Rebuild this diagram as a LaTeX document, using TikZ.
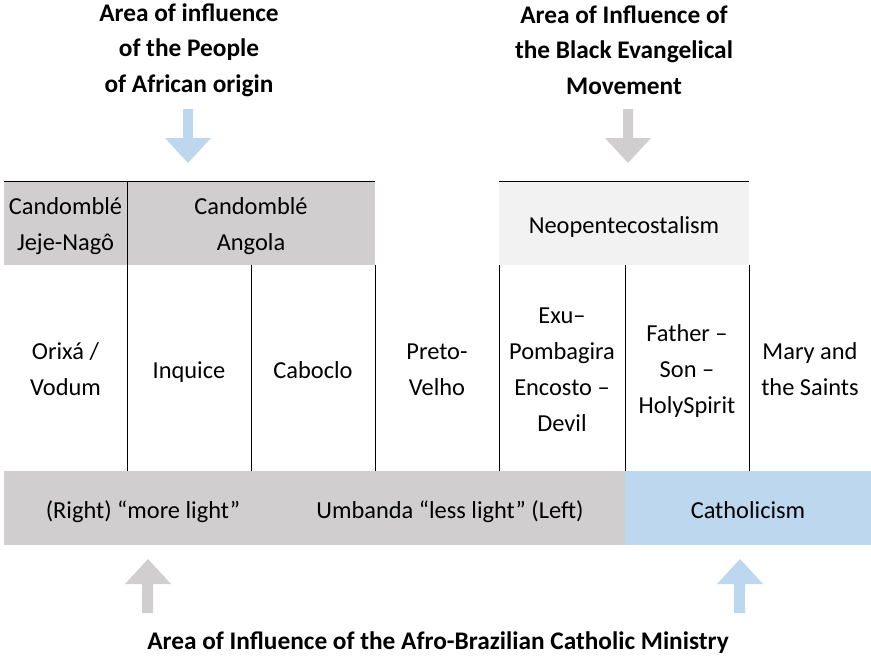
\documentclass[tikz,border=0pt]{standalone}
\usepackage{fontspec}
\setmainfont{Carlito}
\definecolor{bargray}{HTML}{D0CECE}
\definecolor{barblue}{HTML}{BDD7EE}
\definecolor{boxlight}{HTML}{F2F2F2}
\tikzset{
	txt/.style={align=center,font=\fontsize{18.3}{27}\selectfont,inner sep=0pt},
	oneline/.style={txt,text height=14.6pt,text depth=0pt},
	head/.style={align=center,font=\fontsize{19}{26.6}\selectfont\bfseries,inner sep=0pt},
	sep/.style={line width=0.7pt,black}
}
\begin{document}
\begin{tikzpicture}[x=0.75pt,y=-0.75pt]
		\useasboundingbox (0,0) rectangle (871,661);

		% boxes on top and bar below
		\fill[bargray] (4,181) rectangle (375,265);
		\fill[boxlight] (499,181) rectangle (749,265);
		\fill[bargray] (4,471) rectangle (625,545);
		\fill[barblue] (625,471) rectangle (871,545);
		\draw[sep] (4,181) -- (375,181);
		\draw[sep] (499,181) -- (749,181);

		\draw[sep] (127,181) -- (127,471);
		\draw[sep] (251,265) -- (251,471);
		\draw[sep] (375,265) -- (375,471);
		\draw[sep] (499,265) -- (499,471);
		\draw[sep] (625,265) -- (625,471);
		\draw[sep] (749,265) -- (749,471);

		\node[txt] (jeje) at (65.5,226) {Candomblé\\Jeje-Nagô};
		\node[txt] (angola) at (251,226) {Candomblé\\Angola};
		\node[oneline] (neo) at (624,224) {Neopentecostalism};

		\node[txt] (orixa) at (65.5,369) {Orixá /\\Vodum};
		\node[oneline] (inquice) at (189,369) {Inquice};
		\node[oneline] (caboclo) at (313,369) {Caboclo};
		\node[txt] (preto) at (437,370) {Preto-\\Velho};
		\node[txt] (exu) at (562,370) {Exu–\\Pombagira\\Encosto –\\Devil};
		\node[txt] (father) at (687,371) {Father –\\Son –\\HolySpirit};
		\node[txt] (mary) at (810,369) {Mary and\\the Saints};

		\node[oneline] (right) at (143,509) {(Right) “more light”};
		\node[oneline] (umbanda) at (450,509) {Umbanda “less light” (Left)};
		\node[oneline] (catholic) at (748,509) {Catholicism};

		% titles
		\node[head] (african) at (189,50) {Area of influence\\of the People\\of African origin};
		\node[head] (black) at (624,50) {Area of Influence of\\the Black Evangelical\\Movement};
		\node[head] (ministry) at (438,643) {Area of Influence of the Afro-Brazilian Catholic Ministry};

		% block arrows
		\fill[barblue] (183,109) -- (193,109) -- (193,138) -- (211,138) -- (188,163) -- (165,138) -- (183,138) -- cycle;
		\fill[bargray] (623,109) -- (633,109) -- (633,138) -- (651,138) -- (628,163) -- (605,138) -- (623,138) -- cycle;
		\fill[bargray] (142,613) -- (153,613) -- (153,584) -- (171,584) -- (148,559) -- (125,584) -- (142,584) -- cycle;
		\fill[barblue] (734,613) -- (745,613) -- (745,584) -- (763,584) -- (740,559) -- (717,584) -- (734,584) -- cycle;
	\end{tikzpicture}
\end{document}
